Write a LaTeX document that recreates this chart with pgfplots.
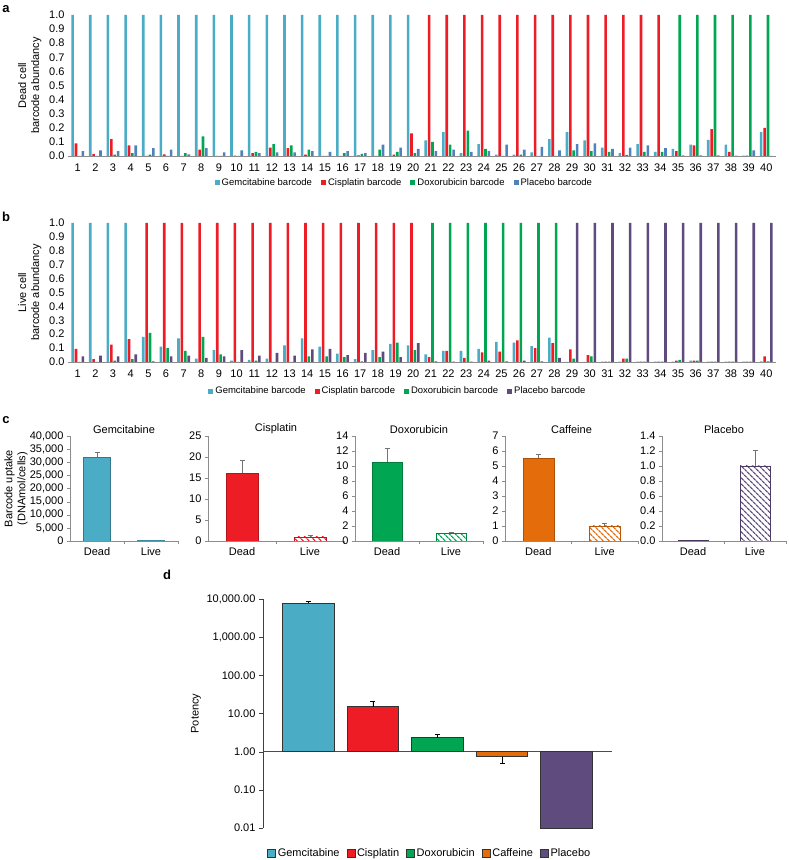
\documentclass[border=0pt]{standalone}
\usepackage{fontspec}
\setmainfont{Liberation Sans}
\setsansfont{Liberation Sans}
\usepackage{pgfplots}
\pgfplotsset{compat=1.18}
\usepackage{pgfplotstable}
\usetikzlibrary{patterns.meta}

\definecolor{gem}{HTML}{4BACC6}
\definecolor{cis}{HTML}{EE1C25}
\definecolor{dox}{HTML}{00A651}
\definecolor{plcA}{HTML}{4F81BD}
\definecolor{plc}{HTML}{5F4B7E}
\definecolor{caf}{HTML}{E46C0A}

\newcommand{\fs}{\fontsize{11}{13}\selectfont}
\newcommand{\fsl}{\fontsize{9.5}{11}\selectfont}

% barcode abundance, dead cells (panel a): x, gem, cis, dox, placebo
\pgfplotstableread{
x g c d p
1 1 0.09 0 0.035
2 1 0.015 0 0.04
3 1 0.12 0.01 0.035
4 1 0.075 0.02 0.075
5 1 0 0.01 0.055
6 1 0.012 0 0.045
7 1 0 0.02 0.012
8 1 0.045 0.14 0.055
9 1 0 0 0.025
10 1 0.003 0 0.04
11 1 0.02 0.03 0.02
12 1 0.06 0.085 0.025
13 1 0.055 0.075 0.025
14 1 0.01 0.045 0.035
15 1 0 0 0.03
16 1 0 0.02 0.035
17 1 0.005 0.015 0.02
18 1 0 0.045 0.08
19 1 0.01 0.03 0.06
20 1 0.16 0.02 0.05
21 0.11 1 0.10 0.035
22 0.17 1 0.08 0.045
23 0.02 1 0.18 0.03
24 0.085 1 0.05 0.035
25 0.01 1 0 0.08
26 0.01 1 0.01 0.045
27 0.025 1 0 0.065
28 0.12 1 0 0.04
29 0.17 1 0.04 0.085
30 0.11 1 0.035 0.09
31 0.06 1 0.03 0.05
32 0.02 1 0.008 0.06
33 0.085 1 0.03 0.075
34 0.03 1 0.03 0.055
35 0.05 0.035 1 0.005
36 0.08 0.075 1 0.005
37 0.115 0.19 1 0.005
38 0.08 0.03 1 0.003
39 0.003 0.003 1 0.04
40 0.17 0.2 1 0
}\deadtab

% live cells (panel b)
\pgfplotstableread{
x g c d p
1 1 0.095 0 0.04
2 1 0.02 0 0.045
3 1 0.125 0.01 0.04
4 1 0.165 0.02 0.055
5 0.18 1 0.21 0.005
6 0.11 1 0.10 0.04
7 0.17 1 0.08 0.045
8 0.025 1 0.18 0.03
9 0.085 1 0.055 0.04
10 0.01 1 0 0.085
11 0.015 1 0.01 0.045
12 0.025 1 0 0.065
13 0.12 1 0 0.045
14 0.17 1 0.04 0.09
15 0.11 1 0.04 0.095
16 0.06 1 0.035 0.05
17 0.02 1 0.005 0.065
18 0.085 1 0.035 0.075
19 0.13 1 0.14 0.035
20 0.12 1 0.085 0.135
21 0.055 0.035 1 0.005
22 0.08 0.08 1 0.003
23 0.08 0.03 1 0.003
24 0.095 0.07 1 0.01
25 0.145 0.075 1 0.005
26 0.14 0.155 1 0.01
27 0.115 0.10 1 0.005
28 0.175 0.135 1 0.03
29 0 0.09 0.025 1
30 0 0.05 0.04 1
31 0.003 0.003 0.003 1
32 0.003 0.025 0.025 1
33 0.003 0.003 0.003 1
34 0.003 0.003 0.003 1
35 0.003 0.01 0.015 1
36 0.01 0.01 0.01 1
37 0.003 0.003 0.003 1
38 0.003 0.003 0.003 1
39 0.003 0.003 0.003 1
40 0.005 0.04 0.005 1
}\livetab

\pgfplotsset{
  every axis/.append style={/pgf/number format/assume math mode=true,
    scale only axis, font=\fs},
  abund/.style={
    anchor=south west, width=708pt,
    xmin=0.45, xmax=40.55, ymin=0, ymax=1,
    ybar=0.8pt, bar width=2.6pt,
    xtick={1,...,40},
    ytick={0,0.1,0.2,0.3,0.4,0.5,0.6,0.7,0.8,0.9,1},
    yticklabels={0.0,0.1,0.2,0.3,0.4,0.5,0.6,0.7,0.8,0.9,1.0},
    tick label style={font=\fs},
    axis x line*=bottom, axis y line*=left,
    y axis line style={draw=none}, x axis line style={black!45},
    tick style={draw=none},
    ylabel style={align=center, font=\fs,
      at={(axis description cs:-0.054,0.5)}, anchor=center},
    legend columns=4,
    legend style={draw=none, anchor=center, font=\fsl,
      /tikz/every even column/.append style={column sep=7pt}},
    legend image code/.code={\fill[##1] (0pt,-2.5pt) rectangle (5pt,2.5pt);},
  },
  potleg/.style={
    legend image code/.code={\draw[##1, draw=black!80, line width=0.5pt] (0pt,-4pt) rectangle (8pt,4pt);},
  },
  err/.style={error bars/.cd, y dir=plus, y explicit,
    error bar style={black!55, line width=0.6pt},
    error mark options={rotate=90, black!55, mark size=2.5pt, line width=0.6pt}},
  cpan/.style={
    anchor=south west, height=105pt,
    xmin=-0.5, xmax=1.5, ymin=0,
    xtick={0,1}, xticklabels={Dead,Live},
    minor xtick={0.5,1.5},
    axis x line*=bottom, axis y line*=left,
    axis line style={black!45},
    tick align=outside, major tick length=3pt, minor tick length=3pt,
    major x tick style={draw=none}, minor x tick style={black!45},
    ytick style={black!45},
    ybar, bar shift=0pt,
    scaled y ticks=false,
    title style={font=\fs, yshift=-7pt},
  },
  hatch/.style={pattern={Lines[angle=-45,distance=4pt,line width=1.3pt]},
    pattern color=#1, draw=#1!80!black},
}

\begin{document}
\begin{tikzpicture}[x=1pt,y=1pt]
\useasboundingbox (0,0) rectangle (788,860);

% ---- a: dead cells
\node[font=\bfseries\fontsize{13}{13}\selectfont] at (6,851) {a};
\begin{axis}[abund, at={(68pt,704pt)}, height=141pt,
  ylabel={Dead cell\\barcode abundancy},
  legend style={at={(0.475,-0.19)}}]
  \addplot[fill=gem, draw=none] table[x=x, y=g] {\deadtab};
  \addplot[fill=cis, draw=none] table[x=x, y=c] {\deadtab};
  \addplot[fill=dox, draw=none] table[x=x, y=d] {\deadtab};
  \addplot[fill=plcA, draw=none] table[x=x, y=p] {\deadtab};
  \legend{Gemcitabine barcode, Cisplatin barcode, Doxorubicin barcode, Placebo barcode}
\end{axis}

% ---- b: live cells
\node[font=\bfseries\fontsize{13}{13}\selectfont] at (6,643) {b};
\begin{axis}[abund, at={(68pt,498pt)}, height=139pt,
  ylabel={Live cell\\barcode abundancy},
  legend style={at={(0.466,-0.21)}}]
  \addplot[fill=gem, draw=none] table[x=x, y=g] {\livetab};
  \addplot[fill=cis, draw=none] table[x=x, y=c] {\livetab};
  \addplot[fill=dox, draw=none] table[x=x, y=d] {\livetab};
  \addplot[fill=plc, draw=none] table[x=x, y=p] {\livetab};
  \legend{Gemcitabine barcode, Cisplatin barcode, Doxorubicin barcode, Placebo barcode}
\end{axis}

% ---- c: barcode uptake
\node[font=\bfseries\fontsize{13}{13}\selectfont] at (6,440) {c};
\begin{axis}[cpan, at={(70pt,319pt)}, width=108pt, title=Gemcitabine,
  ymax=40000, ytick={0,5000,10000,15000,20000,25000,30000,35000,40000},
  ylabel={Barcode uptake\\(DNAmol/cells)},
  ylabel style={align=center, at={(axis description cs:-0.5,0.5)}, anchor=center}]
  \addplot[fill=gem, draw=gem!70!black, bar width=27pt, err] coordinates {(0,32000) +- (0,1800)};
  \addplot[hatch=gem, bar width=27pt] coordinates {(1,150)};
\end{axis}
\begin{axis}[cpan, at={(208pt,319pt)}, width=136pt, title=Cisplatin,
  ymax=25, ytick={0,5,10,15,20,25}]
  \addplot[fill=cis, draw=cis!75!black, bar width=32pt, err] coordinates {(0,16.1) +- (0,3.1)};
  \addplot[hatch=cis, bar width=32pt, err] coordinates {(1,1.0) +- (0,0.3)};
\end{axis}
\begin{axis}[cpan, at={(355pt,319pt)}, width=128pt, title=Doxorubicin,
  ymax=14, ytick={0,2,4,6,8,10,12,14}]
  \addplot[fill=dox, draw=dox!75!black, bar width=30pt, err] coordinates {(0,10.5) +- (0,1.8)};
  \addplot[hatch=dox, bar width=30pt, err] coordinates {(1,1.0) +- (0,0.15)};
\end{axis}
\begin{axis}[cpan, at={(505pt,319pt)}, width=133pt, title=Caffeine,
  ymax=7, ytick={0,1,2,3,4,5,6,7}]
  \addplot[fill=caf, draw=caf!75!black, bar width=31pt, err] coordinates {(0,5.55) +- (0,0.2)};
  \addplot[hatch=caf, bar width=31pt, err] coordinates {(1,1.0) +- (0,0.18)};
\end{axis}
\begin{axis}[cpan, at={(662pt,319pt)}, width=124pt, title=Placebo,
  ymax=1.4, ytick={0,0.2,0.4,0.6,0.8,1.0,1.2,1.4},
  yticklabel style={/pgf/number format/.cd, fixed, fixed zerofill, precision=1}]
  \addplot[fill=plc, draw=plc!75!black, bar width=30pt] coordinates {(0,0.005)};
  \addplot[hatch=plc, bar width=30pt, err] coordinates {(1,1.0) +- (0,0.21)};
\end{axis}

% ---- d: potency
\node[font=\bfseries\fontsize{13}{13}\selectfont] at (167,285) {d};
\begin{axis}[at={(263pt,32pt)}, anchor=south west, width=349pt, height=229pt,
  ymode=log, log origin=0, ymin=0.01, ymax=10000,
  xmin=0.295, xmax=5.705,
  axis x line=none, axis y line*=left,
  axis line style={black!75},
  ybar, bar width=51.7pt, potleg,
  ytick={0.01,0.1,1,10,100,1000,10000},
  yticklabels={0.01,0.10,1.00,10.00,100.00,{1,000.00},{10,000.00}},
  yminorticks=false,
  tick align=outside, major tick length=4pt, ytick style={black!75},
  extra y ticks={1}, extra y tick labels={},
  extra y tick style={grid=major, major grid style={black!70, line width=0.8pt}},
  ylabel=Potency,
  ylabel style={at={(axis description cs:-0.192,0.5)}, anchor=center},
  legend columns=5,
  legend style={draw=none, at={(0.478,-0.109)}, anchor=center, font=\fs,
    /tikz/every even column/.append style={column sep=5pt}},
  error bars/error bar style={black, line width=0.6pt},
  error bars/error mark options={rotate=90, black, mark size=2.5pt, line width=0.6pt},
]
  \addplot[fill=gem, draw=black!80, line width=0.8pt, bar shift=0pt,
    error bars/.cd, y dir=plus, y explicit] coordinates {(1,7700) +- (0,800)};
  \addplot[fill=cis, draw=black!80, line width=0.8pt, bar shift=0pt,
    error bars/.cd, y dir=plus, y explicit] coordinates {(2,15.2) +- (0,5.5)};
  \addplot[fill=dox, draw=black!80, line width=0.8pt, bar shift=0pt,
    error bars/.cd, y dir=plus, y explicit] coordinates {(3,2.33) +- (0,0.57)};
  \addplot[fill=caf, draw=black!80, line width=0.8pt, bar shift=0pt,
    error bars/.cd, y dir=minus, y explicit] coordinates {(4,0.74) +- (0,0.23)};
  \addplot[fill=plc, draw=black!80, line width=0.8pt, bar shift=0pt] coordinates {(5,0.01)};
  \legend{Gemcitabine, Cisplatin, Doxorubicin, Caffeine, Placebo}
\end{axis}
\end{tikzpicture}
\end{document}
